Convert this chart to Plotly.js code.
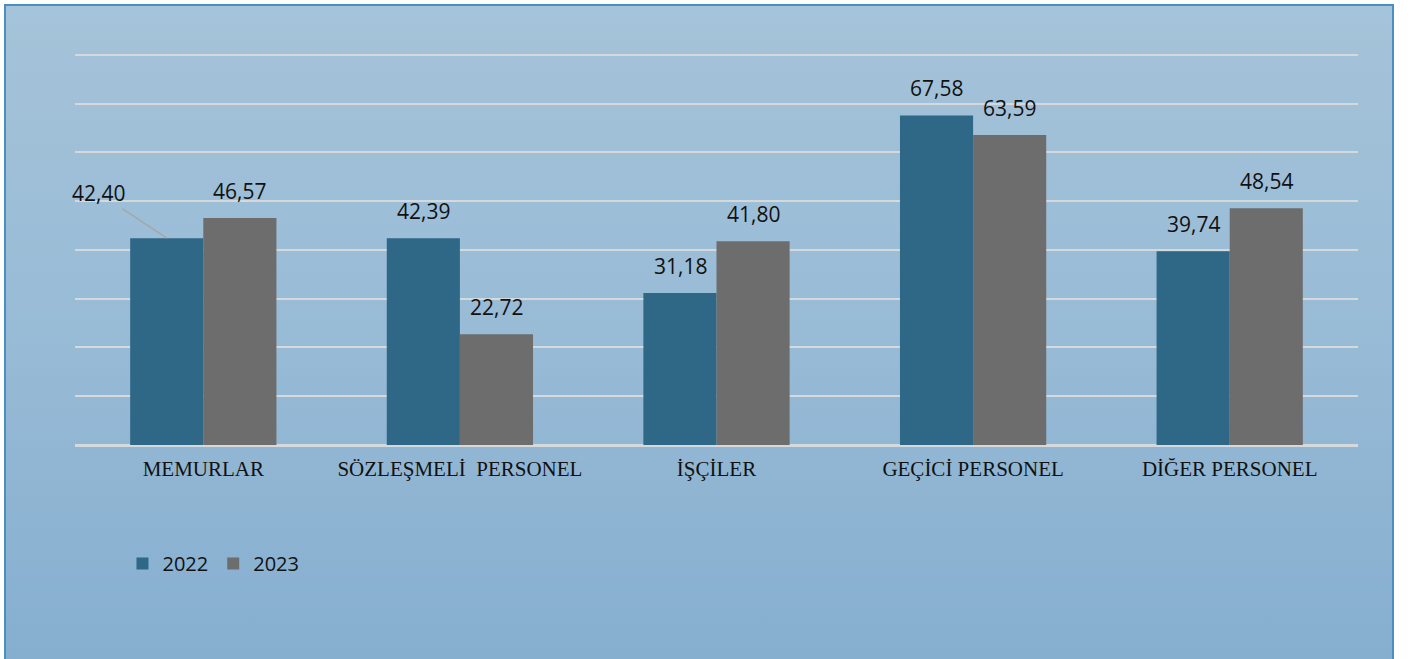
<!DOCTYPE html>
<html>
<head>
<meta charset="utf-8">
<script src="https://cdn.plot.ly/plotly-3.0.1.min.js"></script>
<style>
  html, body { margin: 0; padding: 0; background: #ffffff; width: 1411px; height: 659px; overflow: hidden; }
  #bg { position: absolute; left: 4px; top: 4px; width: 1386px; height: 660px;
        border: 2px solid #4a8fc0; border-bottom: none;
        background: linear-gradient(to bottom, #a5c3d9 0%, #98bbd6 50%, #85aecf 100%); }
  #chart { position: absolute; left: 0; top: 0; width: 1411px; height: 659px; }
</style>
</head>
<body>
<div id="bg"></div>
<div id="chart"></div>
<script>
const categories = ["MEMURLAR", "SÖZLEŞMELİ\u00a0 PERSONEL", "İŞÇİLER", "GEÇİCİ PERSONEL", "DİĞER PERSONEL"];
const series2022 = [42.40, 42.39, 31.18, 67.58, 39.74];
const series2023 = [46.57, 22.72, 41.80, 63.59, 48.54];
const seriesNames = ["2022", "2023"];
const seriesColors = ["#2f6786", "#6d6d6d"];

function fmt(v) { return v.toFixed(2).replace(".", ","); }

const traces = [series2022, series2023].map((vals, i) => ({
  type: "bar",
  name: seriesNames[i],
  x: categories,
  y: vals,
  marker: { color: seriesColors[i] },
  hoverinfo: "skip"
}));

const barShift = 36.5;
const labelFont = { family: "Open Sans, sans-serif", size: 21, color: "#111111" };
const annotations = [];
[series2022, series2023].forEach((vals, i) => {
  vals.forEach((v, j) => {
    const shift = i === 0 ? -barShift : barShift;
    if (i === 0 && j === 0) {
      annotations.push({
        x: categories[j], y: v, xref: "x", yref: "y",
        xshift: shift, text: fmt(v), showarrow: true,
        arrowhead: 0, arrowwidth: 1.5, arrowcolor: "#a6a6a6",
        ax: -68, ay: -45, standoff: 0,
        font: labelFont
      });
    } else {
      annotations.push({
        x: categories[j], y: v, xref: "x", yref: "y",
        xshift: shift, yshift: 11, yanchor: "bottom",
        text: fmt(v), showarrow: false,
        font: labelFont
      });
    }
  });
});

const layout = {
  width: 1411, height: 659,
  paper_bgcolor: "rgba(0,0,0,0)",
  plot_bgcolor: "rgba(0,0,0,0)",
  margin: { l: 75, r: 53, t: 50, b: 214, autoexpand: false },
  barmode: "group",
  bargap: 0.43,
  bargroupgap: 0,
  showlegend: true,
  legend: {
    orientation: "h", x: 0.037, xanchor: "left", y: -0.30, yanchor: "middle",
    font: { family: "Open Sans, sans-serif", size: 20, color: "#111111" },
    bgcolor: "rgba(0,0,0,0)", traceorder: "normal"
  },
  xaxis: {
    type: "category", automargin: false, range: [-0.5, 4.5],
    tickfont: { family: "Liberation Serif, Times New Roman, serif", size: 21, color: "#111111" },
    ticks: "", ticklabelstandoff: 9, showgrid: false, showline: false, zeroline: false,
    fixedrange: true
  },
  yaxis: {
    range: [0, 81], tick0: 0, dtick: 10, showticklabels: false, automargin: false,
    showgrid: true, gridcolor: "#d6d9dc", gridwidth: 2,
    zeroline: true, zerolinecolor: "#d6d9dc", zerolinewidth: 3,
    showline: false, ticks: "", fixedrange: true
  },
  annotations: annotations
};

Plotly.newPlot("chart", traces, layout, { displayModeBar: false, staticPlot: true });
</script>
</body>
</html>
